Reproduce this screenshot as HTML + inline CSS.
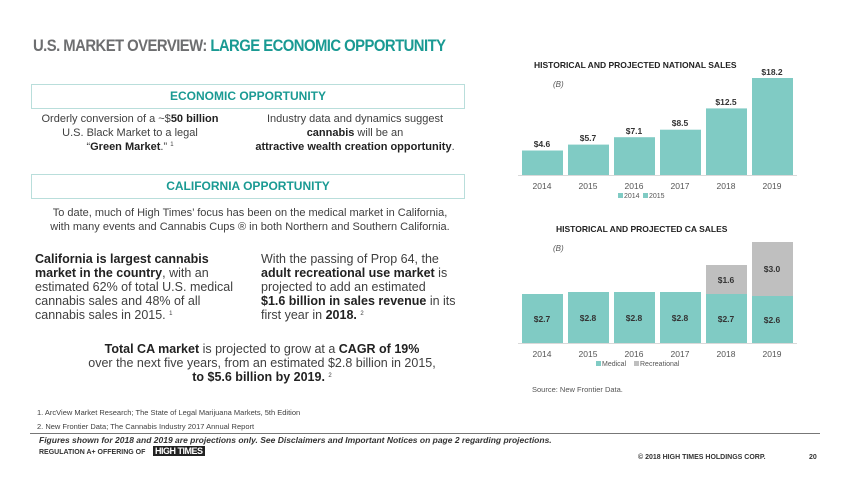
<!DOCTYPE html>
<html><head><meta charset="utf-8"><style>
body{margin:0;width:850px;height:479px;background:#fff;position:relative;overflow:hidden;font-family:"Liberation Sans",sans-serif;color:#404040}
.a{position:absolute;white-space:nowrap}
.box{position:absolute;left:31px;width:432px;border:1px solid #b9dedb;height:23px;text-align:center;color:#1a9a93;font-weight:bold;font-size:12px;line-height:23px}
.c{text-align:center}
b{color:#222}
sup{font-size:6px;line-height:0;vertical-align:4px}
.t{font-size:11px;line-height:14px}
.m{font-size:12.5px;line-height:14px}
</style></head><body>
<div class="a" style="left:33px;top:37px;font-size:16.5px;font-weight:bold;letter-spacing:-0.6px;color:#6d6e70;transform:scaleX(0.9);transform-origin:0 0">U.S. MARKET OVERVIEW: <span style="color:#1a9a93">LARGE ECONOMIC OPPORTUNITY</span></div>
<div class="box" style="top:84px">ECONOMIC OPPORTUNITY</div>
<div class="a t c" style="left:30px;width:200px;top:112px">Orderly conversion of a ~$<b>50 billion</b><br>U.S. Black Market to a legal<br>“<b>Green Market</b>.” <sup>1</sup></div>
<div class="a t c" style="left:250px;width:210px;top:112px">Industry data and dynamics suggest<br><b>cannabis</b> will be an<br><b>attractive wealth creation opportunity</b>.</div>
<div class="box" style="top:174px">CALIFORNIA OPPORTUNITY</div>
<div class="a t c" style="left:30px;width:440px;top:206px">To date, much of High Times’ focus has been on the medical market in California,<br>with many events and Cannabis Cups ® in both Northern and Southern California.</div>
<div class="a m" style="left:35px;top:252px"><b>California is largest cannabis<br>market in the country</b>, with an<br>estimated 62% of total U.S. medical<br>cannabis sales and 48% of all<br>cannabis sales in 2015. <sup>1</sup></div>
<div class="a m" style="left:261px;top:252px">With the passing of Prop 64, the<br><b>adult recreational use market</b> is<br>projected to add an estimated<br><b>$1.6 billion in sales revenue</b> in its<br>first year in <b>2018.</b> <sup>2</sup></div>
<div class="a m c" style="left:60px;width:404px;top:342px"><b>Total CA market</b> is projected to grow at a <b>CAGR of 19%</b><br>over the next five years, from an estimated $2.8 billion in 2015,<br><b>to $5.6 billion by 2019.</b> <sup>2</sup></div>
<div class="a" style="left:37px;top:408px;font-size:7.5px">1. ArcView Market Research; The State of Legal Marijuana Markets, 5th Edition</div>
<div class="a" style="left:37px;top:422px;font-size:7.5px">2. New Frontier Data; The Cannabis Industry 2017 Annual Report</div>
<div class="a" style="left:30px;top:433px;width:790px;border-top:1px solid #777"></div>
<div class="a" style="left:39px;top:435px;font-size:8.5px;font-style:italic;font-weight:bold;color:#333">Figures shown for 2018 and 2019 are projections only.  See Disclaimers and Important Notices on page 2 regarding projections.</div>
<div class="a" style="left:39px;top:449px;font-size:7px;font-weight:bold;color:#333">REGULATION A+ OFFERING OF</div>
<div class="a" style="left:153px;top:446px;font-size:9px;font-weight:bold;background:#222;color:#fff;padding:0 2px;letter-spacing:-0.5px">HIGH TIMES</div>
<div class="a" style="left:638px;top:454px;font-size:7px;font-weight:bold;color:#333">© 2018 HIGH TIMES HOLDINGS CORP.</div>
<div class="a" style="left:809px;top:454px;font-size:7px;font-weight:bold;color:#333">20</div>

<svg class="a" style="left:0;top:0" width="850" height="479" font-family="Liberation Sans, sans-serif">
<g font-size="8.5" font-weight="bold" fill="#222">
<text x="534" y="68">HISTORICAL AND PROJECTED NATIONAL SALES</text>
<text x="556" y="232">HISTORICAL AND PROJECTED CA SALES</text>
</g>
<g font-size="8" font-style="italic" fill="#555"><text x="553" y="87">(B)</text><text x="553" y="251">(B)</text></g>
<g fill="#80cbc4">
<rect x="522" y="150.5" width="41" height="24.5"/>
<rect x="568" y="144.6" width="41" height="30.4"/>
<rect x="614" y="137.2" width="41" height="37.8"/>
<rect x="660" y="129.7" width="41" height="45.3"/>
<rect x="706" y="108.4" width="41" height="66.6"/>
<rect x="752" y="78" width="41" height="97"/>
<rect x="522" y="294" width="41" height="49"/>
<rect x="568" y="292" width="41" height="51"/>
<rect x="614" y="292" width="41" height="51"/>
<rect x="660" y="292" width="41" height="51"/>
<rect x="706" y="294" width="41" height="49"/>
<rect x="752" y="296" width="41" height="47"/>
</g>
<g fill="#bfbfbf"><rect x="706" y="265" width="41" height="29"/><rect x="752" y="242" width="41" height="54"/></g>
<line x1="518" y1="175.5" x2="797" y2="175.5" stroke="#d9d9d9"/>
<line x1="518" y1="343.5" x2="797" y2="343.5" stroke="#d9d9d9"/>
<g font-size="8.5" font-weight="bold" fill="#333" text-anchor="middle">
<text x="542" y="147">$4.6</text><text x="588" y="141">$5.7</text><text x="634" y="134">$7.1</text><text x="680" y="126">$8.5</text><text x="726" y="105">$12.5</text><text x="772" y="75">$18.2</text>
<text x="542" y="322">$2.7</text><text x="588" y="321">$2.8</text><text x="634" y="321">$2.8</text><text x="680" y="321">$2.8</text><text x="726" y="322">$2.7</text><text x="772" y="323">$2.6</text>
<text x="726" y="283">$1.6</text><text x="772" y="272">$3.0</text>
</g>
<g font-size="8.5" fill="#555" text-anchor="middle">
<text x="542" y="189">2014</text><text x="588" y="189">2015</text><text x="634" y="189">2016</text><text x="680" y="189">2017</text><text x="726" y="189">2018</text><text x="772" y="189">2019</text>
<text x="542" y="357">2014</text><text x="588" y="357">2015</text><text x="634" y="357">2016</text><text x="680" y="357">2017</text><text x="726" y="357">2018</text><text x="772" y="357">2019</text>
</g>
<g font-size="7" fill="#555">
<rect x="618" y="193" width="5" height="5" fill="#80cbc4"/><text x="624" y="198">2014</text>
<rect x="643" y="193" width="5" height="5" fill="#80cbc4"/><text x="649" y="198">2015</text>
<rect x="596" y="361" width="5" height="5" fill="#80cbc4"/><text x="602" y="366">Medical</text>
<rect x="634" y="361" width="5" height="5" fill="#bfbfbf"/><text x="640" y="366">Recreational</text>
<text x="532" y="392" font-size="7.5">Source: New Frontier Data.</text>
</g>
</svg>
</body></html>
